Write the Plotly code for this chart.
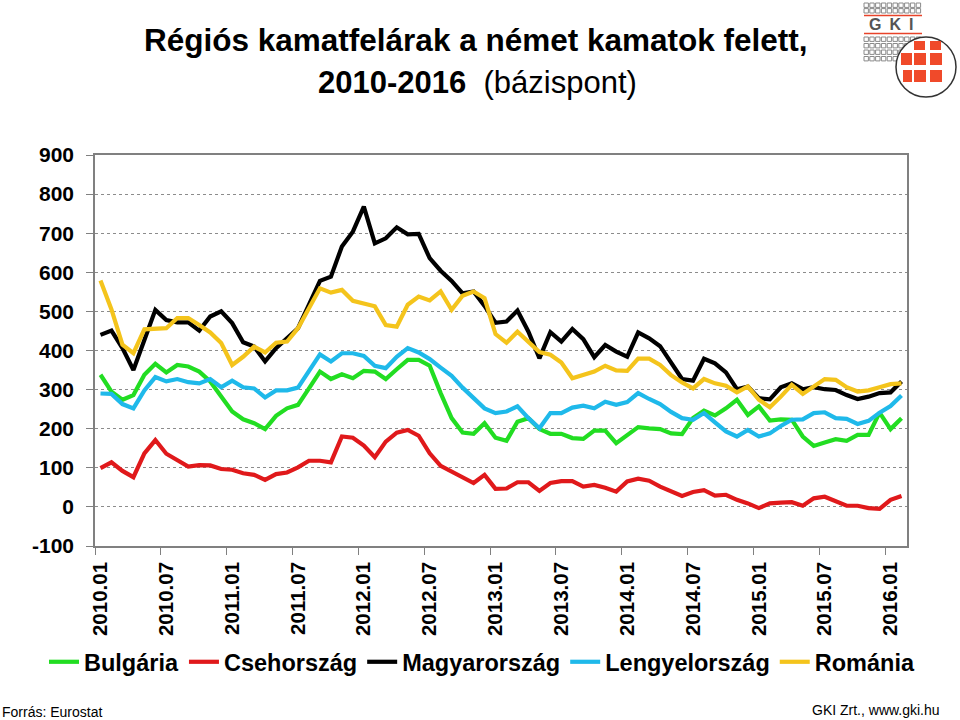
import plotly.graph_objects as go

# ---- data (basis points), monthly 2010.01 - 2016.02 ----
months = [f"{y}.{m:02d}" for y in range(2010, 2017) for m in range(1, 13)][:74]

bulgaria = [338, 295, 274, 286, 338, 366, 344, 363, 359, 346,
            321, 282, 244, 224, 214, 199, 233, 252, 261, 303,
            346, 327, 339, 329, 348, 346, 327, 352, 376, 376,
            361, 291, 227, 190, 187, 214, 177, 169, 218, 227,
            199, 187, 187, 176, 174, 195, 195, 163, 182, 204,
            201, 199, 188, 186, 227, 246, 234, 252, 274, 235,
            257, 221, 224, 223, 180, 156, 165, 173, 169, 184,
            184, 241, 199, 227]

csehorszag = [99, 114, 92, 76, 137, 171, 136, 120, 103, 107,
              106, 97, 95, 86, 82, 69, 84, 88, 101, 118,
              118, 114, 180, 177, 157, 127, 167, 190, 197, 182,
              137, 105, 90, 78, 61, 82, 46, 47, 63, 63,
              41, 61, 66, 66, 52, 56, 49, 39, 65, 72,
              67, 52, 39, 28, 38, 43, 29, 31, 18, 9,
              -3, 9, 11, 12, 3, 22, 26, 14, 3, 3,
              -3, -5, 18, 28]

magyarorszag = [440, 451, 406, 350, 427, 504, 478, 472, 472, 451,
                487, 500, 470, 421, 410, 372, 406, 430, 457, 517,
                578, 589, 666, 704, 768, 674, 687, 715, 697, 698,
                636, 604, 578, 546, 551, 514, 471, 474, 502, 448,
                380, 447, 423, 455, 429, 383, 414, 397, 384, 446,
                431, 411, 369, 327, 323, 379, 367, 344, 301, 308,
                278, 275, 306, 316, 301, 306, 301, 299, 286, 276,
                282, 291, 293, 321]

lengyelorszag = [290, 289, 263, 252, 298, 332, 321, 327, 319, 316,
                 327, 306, 323, 306, 303, 280, 298, 298, 305, 346,
                 390, 372, 393, 393, 386, 361, 355, 384, 406, 395,
                 378, 356, 335, 305, 278, 252, 240, 244, 257, 227,
                 201, 240, 240, 254, 259, 252, 269, 261, 268, 291,
                 276, 263, 243, 227, 223, 240, 216, 193, 180, 197,
                 180, 188, 207, 223, 224, 240, 242, 227, 225, 212,
                 220, 241, 258, 285]

romania = [579, 505, 415, 393, 454, 455, 457, 483, 483, 465,
           446, 419, 363, 384, 410, 395, 420, 423, 457, 508,
           559, 548, 555, 527, 521, 513, 465, 461, 517, 538,
           528, 551, 504, 540, 551, 534, 442, 420, 448, 423,
           396, 389, 369, 329, 338, 346, 361, 349, 348, 379,
           379, 363, 337, 318, 303, 327, 316, 310, 293, 308,
           274, 255, 282, 312, 289, 308, 327, 325, 306, 295,
           298, 306, 314, 316]

series_names = ["Bulgária", "Csehország", "Magyarország", "Lengyelország", "Románia"]
series_colors = ["#22dd22", "#e0191b", "#000000", "#1fb9ea", "#f4c41c"]
series_values = [bulgaria, csehorszag, magyarorszag, lengyelorszag, romania]

y_tickvals = [-100, 0, 100, 200, 300, 400, 500, 600, 700, 800, 900]
y_ticktext = ["-100", "0", "100", "200", "300", "400", "500", "600", "700", "800", "900"]

tick_every = 6

FONT = "Liberation Sans"

fig = go.Figure()
x_idx = list(range(len(months)))
for name, color, vals in zip(series_names, series_colors, series_values):
    fig.add_trace(go.Scatter(x=x_idx, y=vals, mode="lines", name=name,
                             line=dict(color=color, width=4.2),
                             hovertemplate="%{text}: %{y}<extra>" + name + "</extra>",
                             text=months))

tickvals = x_idx[::tick_every]
ticktext = months[::tick_every]

# plot area in pixels: x 95..907, y 155..546
L, R, T, B = 95, 907, 155, 546
W, H = 960, 720


def px(x):
    return (x - L) / (R - L)


def py(y):
    return (B - y) / (B - T)


shapes = []
# --- GKI logo (decorative) ---
sq = 4.4
step = 5.8


def small_square(x0, y0):
    return dict(type="rect", xref="paper", yref="paper",
                x0=px(x0), x1=px(x0 + sq), y0=py(y0 + sq), y1=py(y0),
                line=dict(color="#8a8a8a", width=1), fillcolor="white", layer="above")


for r in range(2):
    for c in range(10):
        shapes.append(small_square(864 + c * step, 3 + r * 5.6))
for r in range(4):
    for c in range(10):
        shapes.append(small_square(864 + c * step, 37 + r * 6.5))
for yl in (15.5, 33.5):
    shapes.append(dict(type="line", xref="paper", yref="paper",
                       x0=px(864), x1=px(922), y0=py(yl), y1=py(yl),
                       line=dict(color="#e8432a", width=1.5)))
cx, cy, rad = 926, 67, 30
shapes.append(dict(type="circle", xref="paper", yref="paper",
                   x0=px(cx - rad), x1=px(cx + rad), y0=py(cy + rad), y1=py(cy - rad),
                   line=dict(color="#333333", width=1.5), fillcolor="white"))
red_sq = [(914, 41, 11, 9), (930, 41, 11, 9),
          (901, 53, 11, 12), (914, 53, 12, 12), (930, 53, 12, 12),
          (903, 70, 9, 12), (914, 70, 12, 12), (930, 70, 12, 12)]
for (x0, y0, w, h) in red_sq:
    shapes.append(dict(type="rect", xref="paper", yref="paper",
                       x0=px(x0), x1=px(x0 + w), y0=py(y0 + h), y1=py(y0),
                       line=dict(width=0), fillcolor="#f04a2a"))

annotations = [
    dict(text="<b>Régiós kamatfelárak a német kamatok felett,</b>",
         xref="paper", yref="paper", x=px(476), y=py(40), xanchor="center", yanchor="middle",
         showarrow=False, font=dict(family=FONT, size=31.5, color="black")),
    dict(text="<b>2010-2016</b>\u00a0\u00a0(bázispont)",
         xref="paper", yref="paper", x=px(477), y=py(83), xanchor="center", yanchor="middle",
         showarrow=False, font=dict(family=FONT, size=31, color="black")),
    dict(text="<b>G\u2002K\u2002I</b>",
         xref="paper", yref="paper", x=px(891), y=py(24.5), xanchor="center", yanchor="middle",
         showarrow=False, font=dict(family=FONT, size=16, color="#555555")),
    dict(text="Forrás: Eurostat",
         xref="paper", yref="paper", x=px(0), y=py(712), xanchor="left", yanchor="middle",
         showarrow=False, font=dict(family=FONT, size=14, color="black")),
    dict(text="GKI Zrt., www.gki.hu",
         xref="paper", yref="paper", x=px(942), y=py(710), xanchor="right", yanchor="middle",
         showarrow=False, font=dict(family=FONT, size=14, color="black")),
]

fig.update_layout(
    width=W, height=H,
    margin=dict(l=L, r=W - R, t=T, b=H - B, pad=0),
    paper_bgcolor="white", plot_bgcolor="white",
    showlegend=True,
    legend=dict(orientation="h", x=px(44), y=py(662), xanchor="left", yanchor="middle",
                font=dict(family=FONT, size=23.5, color="black", weight="bold"),
                itemwidth=30, tracegroupgap=0, bgcolor="rgba(0,0,0,0)"),
    shapes=shapes,
    annotations=annotations,
    xaxis=dict(range=[-0.5, len(months) - 0.5], tickmode="array",
               tickvals=tickvals, ticktext=["<b>" + t + "</b>" for t in ticktext],
               tickangle=-90, ticks="outside", ticklen=6, tickcolor="rgba(0,0,0,0)",
               tickfont=dict(family=FONT, size=20.5, color="black"),
               showgrid=False, zeroline=False,
               showline=True, linecolor="#808080", linewidth=1.5, mirror=True,
               minor=dict(tickvals=[v - 0.5 for v in tickvals], ticks="outside",
                          ticklen=7, tickcolor="#808080", tickwidth=1.2, showgrid=False)),
    yaxis=dict(range=[-100, 900], tickmode="array",
               tickvals=y_tickvals, ticktext=["<b>" + t + "</b>" for t in y_ticktext],
               ticks="outside", ticklen=7, tickcolor="#808080", tickwidth=1.2,
               tickfont=dict(family=FONT, size=21, color="black"),
               ticklabelstandoff=8,
               showgrid=True, gridcolor="#8c8c8c", griddash="dot", gridwidth=1,
               zeroline=False,
               showline=True, linecolor="#808080", linewidth=1.5, mirror=True),
)

fig.write_html("out.html")
